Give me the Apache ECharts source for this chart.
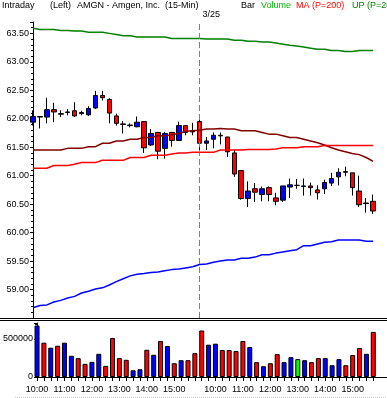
<!DOCTYPE html>
<html><head><meta charset="utf-8">
<script src="https://cdn.jsdelivr.net/npm/echarts@6/dist/echarts.min.js"></script>
<style>html,body{margin:0;padding:0;background:#fff}#c{width:387px;height:398px}</style>
</head><body><div id="c"></div>
<script>
// ---- data ----
const times = ['10:00','10:15','10:30','10:45','11:00','11:15','11:30','11:45','12:00','12:15','12:30','12:45',
  '13:00','13:15','13:30','13:45','14:00','14:15','14:30','14:45','15:00','15:15','15:30','15:45',
  '09:30','09:45','10:00','10:15','10:30','10:45','11:00','11:15','11:30','11:45','12:00','12:15','12:30','12:45',
  '13:00','13:15','13:30','13:45','14:00','14:15','14:30','14:45','15:00','15:15','15:30','15:45'];
const opens  = [61.94,62.04,62.03,62.16,62.08,62.11,62.14,62.11,62.07,62.19,62.41,62.34,62.05,61.91,61.88,61.86,61.95,61.54,61.76,61.48,61.76,61.62,61.88,61.78,
  61.95,61.57,61.64,61.71,61.68,61.40,61.09,60.60,60.77,60.67,60.79,60.61,60.57,60.80,60.83,60.81,60.82,60.75,60.77,60.87,60.98,61.07,61.05,60.73,60.51,60.55];
const closes = [62.04,62.03,62.16,62.12,62.09,62.12,62.05,62.09,62.18,62.41,62.37,62.10,61.92,61.90,61.89,61.94,61.49,61.74,61.43,61.74,61.62,61.88,61.76,61.77,
  61.57,61.61,61.71,61.70,61.42,61.03,60.60,60.73,60.71,60.77,60.67,60.55,60.82,60.84,60.83,60.82,60.79,60.70,60.88,60.95,61.06,61.06,60.79,60.49,60.52,60.38];
const lows   = [61.88,61.83,61.92,61.94,62.03,62.06,62.03,62.06,62.05,62.17,62.32,61.92,61.88,61.74,61.85,61.85,61.40,61.52,61.29,61.30,61.51,61.61,61.71,61.71,
  61.43,61.45,61.48,61.55,61.33,60.98,60.58,60.45,60.54,60.55,60.55,60.48,60.54,60.61,60.77,60.65,60.65,60.58,60.68,60.82,60.83,60.99,60.65,60.45,60.35,60.33];
const highs  = [62.15,62.04,62.37,62.28,62.15,62.17,62.29,62.14,62.22,62.49,62.49,62.36,62.09,61.96,61.92,62.04,61.95,61.82,61.77,61.77,61.77,61.95,61.89,61.93,
  61.98,61.68,61.76,61.76,61.68,61.46,61.09,60.90,60.87,60.81,60.81,60.70,60.82,60.95,60.94,60.95,60.88,60.83,60.93,61.05,61.13,61.16,61.05,61.00,60.61,60.67];
const volumes = [677000,451000,385000,411000,451000,279000,248000,173000,199000,305000,146000,513000,248000,226000,88000,102000,358000,292000,473000,407000,181000,221000,221000,314000,
  611000,425000,438000,354000,354000,341000,473000,394000,195000,142000,181000,301000,195000,261000,235000,221000,195000,248000,248000,155000,235000,155000,288000,381000,305000,593000];
const maLine = [61.13,61.13,61.13,61.18,61.18,61.18,61.20,61.23,61.23,61.23,61.27,61.27,61.27,61.27,61.32,61.32,61.32,61.36,61.36,61.36,61.38,61.40,61.40,61.41,
  61.41,61.41,61.41,61.45,61.45,61.45,61.45,61.46,61.46,61.46,61.46,61.47,61.49,61.49,61.49,61.51,61.51,61.51,61.53,61.53,61.53,61.53,61.53,61.53,61.53,61.53];
const midLine = [61.45,61.45,61.45,61.45,61.45,61.48,61.48,61.48,61.51,61.51,61.57,61.57,61.61,61.61,61.64,61.64,61.67,61.67,61.70,61.70,61.72,61.74,61.78,61.79,
  61.80,61.82,61.82,61.83,61.82,61.82,61.79,61.79,61.79,61.76,61.73,61.73,61.70,61.67,61.67,61.64,61.61,61.58,61.54,61.49,61.45,61.42,61.39,61.37,61.32,61.25];
const upLine = [63.59,63.57,63.57,63.57,63.55,63.55,63.54,63.54,63.52,63.52,63.52,63.50,63.48,63.46,63.46,63.435,63.435,63.435,63.435,63.435,63.41,63.41,63.41,63.41,
  63.41,63.40,63.40,63.40,63.40,63.38,63.38,63.36,63.36,63.35,63.35,63.33,63.31,63.29,63.28,63.26,63.24,63.22,63.22,63.20,63.20,63.18,63.18,63.20,63.20,63.20];
const lowLine = [58.68,58.72,58.73,58.78,58.81,58.85,58.88,58.94,58.97,59.01,59.03,59.08,59.14,59.19,59.24,59.27,59.28,59.30,59.31,59.33,59.35,59.36,59.38,59.40,
  59.44,59.45,59.48,59.50,59.52,59.52,59.55,59.55,59.57,59.61,59.61,59.64,59.66,59.68,59.70,59.77,59.77,59.80,59.83,59.84,59.87,59.87,59.87,59.87,59.85,59.85];
const priceTickLabels = ['59.00','59.50','60.00','60.50','61.00','61.50','62.00','62.50','63.00','63.50'];
const volumeTickLabels = ['0','500000'];
const lastPriceLabel = '60.38';
const dateLabel = '3/25';
const dateIndex = 24;

// ---- chart ----
const FONT = 'Liberation Sans';
const cats = times.concat(['', '']);
const candles = times.map((t, i) => [opens[i], closes[i], lows[i], highs[i]]);
const volColor = i => closes[i] > opens[i] ? '#0000ff' : (closes[i] < opens[i] ? '#ff0000' : '#00ff00');

const chart = echarts.init(document.getElementById('c'), null, {renderer: 'canvas'});
const lineSeries = (name, data, color) => ({
  name, type: 'line', data, xAxisIndex: 0, yAxisIndex: 0, symbol: 'none', showSymbol: false,
  lineStyle: {color, width: 1.5}, silent: true
});
chart.setOption({
  animation: false,
  backgroundColor: '#fff',
  grid: [
    {left: 33, top: 22, width: 357, height: 296},
    {left: 33, top: 323, width: 357, height: 54}
  ],
  xAxis: [
    {type: 'category', gridIndex: 0, data: cats, boundaryGap: false, show: false},
    {type: 'category', gridIndex: 1, data: cats, boundaryGap: false,
      axisLine: {lineStyle: {color: '#000', width: 1}},
      axisTick: {show: true, length: 4, interval: (i, v) => v !== '', lineStyle: {color: '#000'}},
      axisLabel: {interval: (i, v) => v.endsWith(':00'), color: '#000', fontSize: 9, fontFamily: FONT, margin: 8},
      splitLine: {show: false}}
  ],
  yAxis: [
    {type: 'value', gridIndex: 0, min: 58.5, max: 63.7, interval: 0.5,
      axisLine: {show: true, lineStyle: {color: '#000'}},
      axisTick: {show: true, length: 3, lineStyle: {color: '#000'}},
      minorTick: {show: true, splitNumber: 5, length: 2, lineStyle: {color: '#000'}},
      axisLabel: {color: '#000', fontSize: 9, fontFamily: FONT, margin: 4,
        formatter: v => { const s = v.toFixed(2); return priceTickLabels.includes(s) ? s : ''; }},
      splitLine: {show: false}},
    {type: 'value', gridIndex: 1, min: 0, max: 710000, interval: 500000,
      axisLine: {show: true, lineStyle: {color: '#000'}},
      axisTick: {show: true, length: 3, lineStyle: {color: '#000'}},
      minorTick: {show: true, splitNumber: 5, length: 2, lineStyle: {color: '#000'}},
      axisLabel: {color: '#000', fontSize: 9, fontFamily: FONT, margin: 4,
        formatter: v => { const s = String(v); return volumeTickLabels.includes(s) ? s : ''; }},
      splitLine: {show: false}}
  ],
  series: [
    lineSeries('UP', upLine, '#008000'),
    lineSeries('Lower', lowLine, '#0000ff'),
    lineSeries('Mid', midLine, '#800000'),
    lineSeries('MA', maLine, '#ff0000'),
    {type: 'candlestick', xAxisIndex: 0, yAxisIndex: 0, data: candles, barWidth: 5,
      itemStyle: {color: '#0000ff', color0: '#ff0000', borderColor: '#000', borderColor0: '#000', borderColorDoji: '#000', borderWidth: 1},
      markLine: {silent: true, symbol: ['none', 'none'], animation: false,
        data: [
          {xAxis: dateIndex, lineStyle: {color: '#808080', type: [6, 3], width: 1}, label: {show: false}},
          {yAxis: Number(lastPriceLabel), lineStyle: {opacity: 0}, label: {show: true, position: 'start', formatter: lastPriceLabel, color: '#000', fontSize: 9, fontFamily: FONT, distance: 4}}
        ]}},
    {type: 'bar', xAxisIndex: 1, yAxisIndex: 1, barWidth: 5,
      data: volumes.map((v, i) => ({value: v, itemStyle: {color: volColor(i)}})),
      itemStyle: {borderColor: '#000', borderWidth: 1}}
  ]
});

const dx = chart.convertToPixel({xAxisIndex: 0}, dateIndex);
const hf = '9px ' + FONT;
const txt = (x, y, text, fill) => ({type: 'text', x, y, silent: true, style: {text, fill, font: hf, verticalAlign: 'top'}});
chart.setOption({
  graphic: [
    txt(2, 1, 'Intraday', '#000'),
    txt(50, 1, '(Left)', '#000'),
    txt(77, 1, 'AMGN - Amgen, Inc.  (15-Min)', '#000'),
    txt(241, 1, 'Bar', '#000'),
    txt(261, 1, 'Volume', '#00c000'),
    txt(296, 1, 'MA (P=200)', '#ff0000'),
    txt(352, 1, 'UP (P=20)', '#008000'),
    txt(dx + 3, 10, dateLabel, '#000'),
    {type: 'rect', silent: true, shape: {x: 0, y: 318, width: 387, height: 1}, style: {fill: '#000'}},
    {type: 'rect', silent: true, shape: {x: 0, y: 320, width: 387, height: 1}, style: {fill: '#000'}},
    {type: 'line', silent: true, shape: {x1: 15, y1: 397.5, x2: 387, y2: 397.5}, style: {stroke: '#c8c8c8', lineDash: [1, 1], lineWidth: 1}}
  ]
});
</script>
</body></html>
